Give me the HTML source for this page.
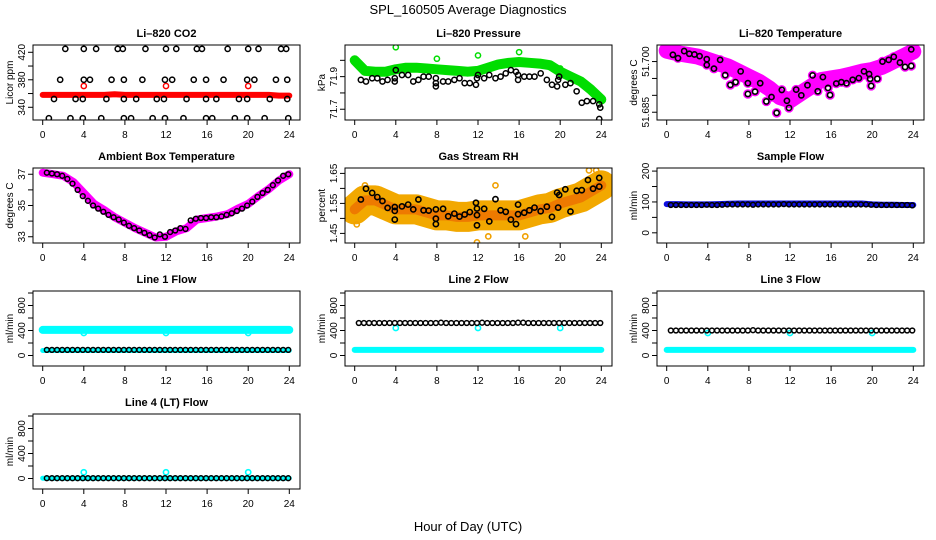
<!DOCTYPE html>
<html><head><meta charset="utf-8"><style>
html,body{margin:0;padding:0;background:#fff;}
svg{display:block;font-family:"Liberation Sans",sans-serif;}
</style></head><body>
<svg id="chart" width="936" height="540" viewBox="0 0 936 540" xmlns="http://www.w3.org/2000/svg">
<rect x="0" y="0" width="936" height="540" fill="#fff"/>
<text x="468" y="14" font-size="13" text-anchor="middle">SPL_160505  Average Diagnostics</text>
<text x="468" y="531" font-size="13" text-anchor="middle">Hour of Day (UTC)</text>
</svg>
<script>
// ---------- data ----------
const xTicks = [0,4,8,12,16,20,24];
const bandHours = [0,1,2,3,4,5,6,7,8,9,10,11,12,13,14,15,16,17,18,19,20,21,22,23,24];
// CO2
const co2BlackHours = [2.2,4,5.2,7.3,7.8,10,12,13,15,15.5,18,20,21,23.2,23.7, 1.7,4,4.6,6.7,7.9,9.7,11.9,12.6,14.7,15.9,17.6,19.9,20.6,22.7,23.8, 1.1,3.2,3.9,6.2,7.9,9.1,11.1,11.8,14,15.9,16.9,19.1,19.9,22.1,23.8, 0.6,2.7,3.9,5.7,7.9,8.6,10.7,11.9,13.7,15.9,16.5,18.7,19.9,21.6,23.9];
const co2BlackVals = [425,425,425,425,425,425,425,425,425,425,425,425,425,425,425, 380,380,380,380,380,380,380,380,380,380,380,380,380,380,380, 352,352,352,352,352,352,352,352,352,352,352,352,352,352,352, 324,324,324,324,324,324,324,324,324,324,324,324,324,324,324];
const co2Band = [358,358,358,358,358,358,358,359,358,358,358,358,358,358,358,358,358,358,358,358,358,358,358,357,357];
const co2RedHours = [4,12,20];
const co2RedVals = [371,371,371];
// Pressure
const presBand = [72.00,71.935,71.93,71.93,71.945,71.955,71.955,71.95,71.945,71.94,71.935,71.93,71.935,71.955,71.975,71.985,71.99,71.985,71.98,71.97,71.93,71.90,71.87,71.82,71.76];
const presGreenHours = [4,8,12,16,20];
const presGreenVals = [72.08,72.01,72.03,72.05,71.95];
const presBlackHours = [0.6,1.1,1.7,2.2,2.7,3.2,3.9,3.9,4,4.6,5.2,5.7,6.2,6.7,7.2,7.9,7.9,7.9,8.6,9.1,9.7,10.2,10.7,11.2,11.8,11.9,12,12.6,13.1,13.7,14.2,14.7,15.2,15.7,15.9,15.9,16.5,17,17.5,18.1,18.7,19.2,19.7,19.8,19.9,20.5,21,21.6,22.1,22.6,23.2,23.8,23.9,23.8];
const presBlackVals = [71.88,71.87,71.89,71.89,71.87,71.88,71.89,71.87,71.94,71.91,71.91,71.87,71.88,71.90,71.90,71.89,71.86,71.84,71.87,71.87,71.88,71.89,71.86,71.86,71.85,71.89,71.91,71.89,71.91,71.89,71.90,71.92,71.94,71.93,71.91,71.88,71.90,71.90,71.90,71.92,71.88,71.85,71.84,71.88,71.90,71.85,71.86,71.81,71.74,71.75,71.75,71.73,71.71,71.64];
// Li-820 temperature
const tempBand = [51.7032,51.7025,51.7020,51.7015,51.7005,51.6995,51.6985,51.6970,51.6955,51.6940,51.6920,51.6895,51.6885,51.6905,51.6925,51.6945,51.6950,51.6955,51.6962,51.6970,51.6975,51.6985,51.7000,51.7015,51.7030];
const tempBlackHours = [0.6,1.1,1.7,2.2,2.7,3.2,3.9,3.9,4.6,5.2,5.7,6.2,6.7,7.2,7.9,7.9,8.6,9.1,9.7,10.2,10.7,11.2,11.7,11.9,12.6,13.1,13.7,14.2,14.7,15.2,15.7,15.9,16.5,17,17.5,18.1,18.7,19.2,19.7,19.8,19.9,20.5,21,21.6,22.1,22.7,23.2,23.8,23.8];
const tempBlackVals = [51.7020,51.7010,51.7031,51.7023,51.7021,51.7016,51.7007,51.6990,51.6979,51.7005,51.6960,51.6931,51.6939,51.6971,51.6936,51.6904,51.6911,51.6936,51.6882,51.6895,51.6848,51.6916,51.6884,51.6863,51.6917,51.6900,51.6930,51.6959,51.6912,51.6954,51.6922,51.6901,51.6935,51.6939,51.6936,51.6946,51.6951,51.6971,51.6963,51.6949,51.6928,51.6949,51.7000,51.7005,51.7014,51.6997,51.6984,51.7036,51.6987];
// Ambient box temperature
const ambBand = [37.1,37.0,36.9,36.5,35.8,35.1,34.7,34.25,33.9,33.55,33.25,32.95,33.0,33.35,33.55,34.1,34.2,34.3,34.45,34.8,35.1,35.6,36.05,36.6,37.0];
const ambBlackHours = [0.4,0.9,1.4,1.9,2.4,2.9,3.4,3.9,4.4,4.9,5.4,5.9,6.4,6.9,7.4,7.9,8.4,8.9,9.4,9.9,10.4,10.9,11.4,11.9,12.4,12.9,13.4,13.9,14.4,14.9,15.4,15.9,16.4,16.9,17.4,17.9,18.4,18.9,19.4,19.9,20.4,20.9,21.4,21.9,22.4,22.9,23.4,23.9];
const ambBlackVals = [37.1,37.05,37.0,36.9,36.7,36.4,36.0,35.6,35.3,35.0,34.8,34.6,34.4,34.25,34.1,33.9,33.7,33.55,33.4,33.25,33.1,32.95,33.15,33.0,33.3,33.4,33.55,33.5,34.05,34.15,34.2,34.2,34.25,34.25,34.3,34.4,34.5,34.65,34.8,35.0,35.25,35.55,35.8,36.0,36.3,36.6,36.9,37.0];
// Gas stream RH
const rhBand = [1.53,1.56,1.56,1.545,1.53,1.53,1.53,1.52,1.51,1.51,1.505,1.505,1.51,1.51,1.51,1.51,1.51,1.52,1.53,1.535,1.55,1.56,1.57,1.59,1.61];
const rhBlackHours = [0.6,1.1,1.7,2.2,2.7,3.2,3.9,3.9,3.9,4.6,5.2,5.7,6.2,6.7,7.2,7.9,7.9,7.9,8.6,9.1,9.7,10.2,10.7,11.2,11.8,11.9,11.9,11.9,12.6,13.1,13.7,14.2,14.7,15.2,15.7,15.9,15.9,16.5,17,17.5,18.1,18.7,19.2,19.7,19.8,19.9,20.5,21,21.6,22.1,22.7,23.2,23.8,23.8];
const rhBlackVals = [1.563,1.599,1.585,1.571,1.558,1.535,1.538,1.525,1.496,1.540,1.546,1.530,1.563,1.527,1.526,1.530,1.499,1.481,1.532,1.507,1.516,1.506,1.513,1.521,1.552,1.533,1.511,1.477,1.532,1.490,1.564,1.527,1.522,1.496,1.481,1.546,1.514,1.519,1.527,1.536,1.524,1.539,1.505,1.586,1.536,1.578,1.597,1.523,1.592,1.594,1.628,1.599,1.635,1.606];
const rhOutlierHours = [0.2,1,11.9,13,13.7,16.6,22.8,23.5];
const rhOutlierVals = [1.48,1.61,1.42,1.44,1.61,1.44,1.66,1.66];
// Sample flow
const sampleBand = [93,93,92,92,92,93,94,95,95,95,95,95,95,95,95,95,95,95,95,95,92,91,91,90,90];
const sampleBlack = [90,90,90,90,90,90,90,91,90,90,91,92,92,92,92,92,91,92,92,92,92,92,93,92,92,92,92,92,92,92,92,92,92,92,92,92,92,92,92,91,90,90,90,90,90,90,90,89];
// Line flows
const line1Cyan = [410,410,410,410,410,410,410,410,410,410,410,410,410,410,410,410,410,410,410,410,410,410,410,410,410];
const line1CyanLow = [80,80,80,80,80,80,80,80,80,80,80,80,80,80,80,80,80,80,80,80,80,80,80,80,80];
const line1Black = [90,90,90,90,90,90,90,90,90,90,90,90,90,90,90,90,90,90,90,90,90,90,90,90,90,90,90,90,90,90,90,90,90,90,90,90,90,90,90,90,90,90,90,90,90,90,90,90];
const line1OutHours = [4,12,20];
const line1OutVals = [360,360,360];
const line2Cyan = [90,90,90,90,90,90,90,90,90,90,90,90,90,90,90,90,90,90,90,90,90,90,90,90,90];
const line2Black = [520,520,520,520,520,520,520,520,520,520,520,520,520,520,520,520,525,520,520,520,520,520,520,520,525,520,520,520,520,520,520,525,525,520,520,520,520,520,520,520,520,520,520,520,520,520,520,520];
const line2OutHours = [4,12,20];
const line2OutVals = [440,440,440];
const line3Cyan = [90,90,90,90,90,90,90,90,90,90,90,90,90,90,90,90,90,90,90,90,90,90,90,90,90];
const line3Black = [400,400,400,400,400,400,400,400,400,400,400,400,400,400,400,400,405,400,400,400,400,400,400,400,400,400,400,400,400,400,400,400,400,400,400,400,400,400,400,400,400,400,400,400,400,400,400,400];
const line3OutHours = [4,12,20];
const line3OutVals = [360,360,360];
const line4Cyan = [5,5,5,5,5,5,5,5,5,5,5,5,5,5,5,5,5,5,5,5,5,5,5,5,5];
const line4Black = [5,5,5,5,5,5,5,5,5,5,5,5,5,5,5,5,5,5,5,5,5,5,5,5,5,5,5,5,5,5,5,5,5,5,5,5,5,5,5,5,5,5,5,5,5,5,5,5];
const line4OutHours = [4,12,20];
const line4OutVals = [100,100,100];
const flowHalfHours = [0.4,0.9,1.4,1.9,2.4,2.9,3.4,3.9,4.4,4.9,5.4,5.9,6.4,6.9,7.4,7.9,8.4,8.9,9.4,9.9,10.4,10.9,11.4,11.9,12.4,12.9,13.4,13.9,14.4,14.9,15.4,15.9,16.4,16.9,17.4,17.9,18.4,18.9,19.4,19.9,20.4,20.9,21.4,21.9,22.4,22.9,23.4,23.9];

// ---------- drawing ----------
const NS = 'http://www.w3.org/2000/svg';
const svg = document.getElementById('chart');
function mk(tag, attrs, parent){
  const e = document.createElementNS(NS, tag);
  for (const k in attrs) e.setAttribute(k, attrs[k]);
  (parent||svg).appendChild(e);
  return e;
}
function panel(col,row,name,title,ylab,ylim,ticks,labels){
  const L = 33+312*col, R = 300+312*col, T = 45+123*row, B = 120+123*row;
  const x0 = 42.7+312*col, x24 = 289.3+312*col;
  const g = mk('g',{});
  
  
  const sx = h => x0 + (x24-x0)*h/24;
  const sy = v => B - (v-ylim[0])/(ylim[1]-ylim[0])*(B-T);
  const t = mk('text',{x:(L+R)/2,y:T-8,'font-size':11,'font-weight':'bold','text-anchor':'middle'},g);
  t.textContent = title;
  
  
  const yl = mk('text',{x:L-20,y:(T+B)/2,'font-size':10,'text-anchor':'middle',transform:`rotate(-90 ${L-20} ${(T+B)/2})`},g);
  yl.textContent = ylab;
  
  
  const plot = mk('g',{},g);
  
  
  // x axis
  xTicks.forEach(h=>{
    mk('line',{x1:sx(h),x2:sx(h),y1:B,y2:B+5,stroke:'#000'},g);
    const tl = mk('text',{x:sx(h),y:B+18,'font-size':10,'text-anchor':'middle'},g);
    tl.textContent = h;
    
    
  });
  ticks.forEach((v,i)=>{
    mk('line',{x1:L,x2:L-5,y1:sy(v),y2:sy(v),stroke:'#000'},g);
    if (labels[i]!==''){
      const tl = mk('text',{x:L-8,y:sy(v),'font-size':10,'text-anchor':'middle',transform:`rotate(-90 ${L-8} ${sy(v)})`},g);
      tl.textContent = labels[i];
      
      
    }
  });
  const clip = 'clip'+col+row;
  const cp = mk('clipPath',{id:clip},g);
  mk('rect',{x:L,y:T,width:R-L,height:B-T},cp);
  plot.setAttribute('clip-path', `url(#${clip})`);
  mk('rect',{x:L,y:T,width:R-L,height:B-T,fill:'none',stroke:'#000','stroke-width':1},g);
  return {plot,sx,sy};
}
function band(p,hours,vals,color,w,name){
  const pts = hours.map((h,i)=>p.sx(h).toFixed(1)+','+p.sy(vals[i]).toFixed(1)).join(' ');
  const e = mk('polyline',{points:pts,fill:'none',stroke:color,'stroke-width':w,'stroke-linejoin':'round','stroke-linecap':'round'},p.plot);
  
  
}
function pts(p,hours,vals,color,r,sw,name){
  vals.forEach((v,i)=>{
    const c = mk('circle',{cx:p.sx(hours[i]),cy:p.sy(v),r:r,fill:'none',stroke:color,'stroke-width':sw},p.plot);
    
    
  });
}
const flowTicks=[0,200,400,600,800,1000], flowLabels=['0','','400','','800',''];

// Panel 1 CO2
let p = panel(0,0,'co2','Li\u2013820 CO2','Licor ppm',[321.5,430.6],[340,360,380,400,420],['340','','380','','420']);
band(p,bandHours,co2Band,'#ff0000',6,'co2-band');
pts(p,co2RedHours,co2RedVals,'#ff0000',2.6,1.5,'co2-red-point');
pts(p,co2BlackHours,co2BlackVals,'#000',2.6,1.5,'co2-point');
// Panel 2 pressure
p = panel(1,0,'pressure','Li\u2013820 Pressure','kPa',[71.634,72.094],[71.7,71.8,71.9,72.0],['71.7','','71.9','']);
band(p,bandHours,presBand,'#00dd00',10,'pressure-band');
pts(p,presGreenHours,presGreenVals,'#00dd00',2.6,1.5,'pressure-green-point');
pts(p,presBlackHours,presBlackVals,'#000',2.6,1.5,'pressure-point');
// Panel 3 Li-820 temperature
p = panel(2,0,'li820-temp','Li\u2013820 Temperature','degrees C',[51.6827,51.7049],[51.685,51.690,51.695,51.700],['51.685','','','51.700']);
band(p,bandHours,tempBand,'#ff00ff',16,'li820-temp-band');
pts(p,tempBlackHours,tempBlackVals,'#ff00ff',4,1.5,'li820-temp-magenta-point');
pts(p,tempBlackHours,tempBlackVals,'#000',2.6,1.6,'li820-temp-point');
// Panel 4 ambient
p = panel(0,1,'ambient-temp','Ambient Box Temperature','degrees C',[32.6,37.4],[33,34,35,36,37],['33','','35','','37']);
band(p,bandHours,ambBand,'#ff00ff',8,'ambient-band');
pts(p,ambBlackHours,ambBlackVals,'#000',2.4,1.5,'ambient-point');
// Panel 5 RH
p = panel(1,1,'gas-rh','Gas Stream RH','percent',[1.418,1.668],[1.45,1.50,1.55,1.60,1.65],['1.45','','1.55','','1.65']);
band(p,bandHours,rhBand,'#f2a800',30,'rh-band');
band(p,bandHours,rhBand,'#ee7a00',10,'rh-band-core');
pts(p,rhOutlierHours,rhOutlierVals,'#f0a000',2.6,1.6,'rh-outlier');
pts(p,rhBlackHours,rhBlackVals,'#000',2.6,1.6,'rh-point');
// Panel 6 sample flow
p = panel(2,1,'sample-flow','Sample Flow','ml/min',[-33,210],[0,50,100,150,200],['0','','100','','200']);
band(p,bandHours,sampleBand,'#1010e0',6,'sample-band');
pts(p,flowHalfHours,sampleBlack,'#000',2.4,1.5,'sample-point');
// Line 1
p = panel(0,2,'line1-flow','Line 1 Flow','ml/min',[-168,1032],flowTicks,flowLabels);
band(p,bandHours,line1Cyan,'#00ffff',8,'line1-cyan-band');
band(p,bandHours,line1CyanLow,'#00ffff',5,'line1-cyan-low');
pts(p,line1OutHours,line1OutVals,'#00ffff',2.6,1.6,'line1-cyan-point');
pts(p,flowHalfHours,line1Black,'#000',2.4,1.5,'line1-point');
// Line 2
p = panel(1,2,'line2-flow','Line 2 Flow','ml/min',[-168,1032],flowTicks,flowLabels);
band(p,bandHours,line2Cyan,'#00ffff',6,'line2-cyan-band');
pts(p,line2OutHours,line2OutVals,'#00ffff',2.6,1.6,'line2-cyan-point');
pts(p,flowHalfHours,line2Black,'#000',2.4,1.5,'line2-point');
// Line 3
p = panel(2,2,'line3-flow','Line 3 Flow','ml/min',[-168,1032],flowTicks,flowLabels);
band(p,bandHours,line3Cyan,'#00ffff',6,'line3-cyan-band');
pts(p,line3OutHours,line3OutVals,'#00ffff',2.6,1.6,'line3-cyan-point');
pts(p,flowHalfHours,line3Black,'#000',2.4,1.5,'line3-point');
// Line 4
p = panel(0,3,'line4-flow','Line 4 (LT) Flow','ml/min',[-168,1032],flowTicks,flowLabels);
band(p,bandHours,line4Cyan,'#00ffff',5,'line4-cyan-band');
pts(p,line4OutHours,line4OutVals,'#00ffff',2.6,1.6,'line4-cyan-point');
pts(p,flowHalfHours,line4Black,'#000',2.4,1.5,'line4-point');
</script>
</body></html>
